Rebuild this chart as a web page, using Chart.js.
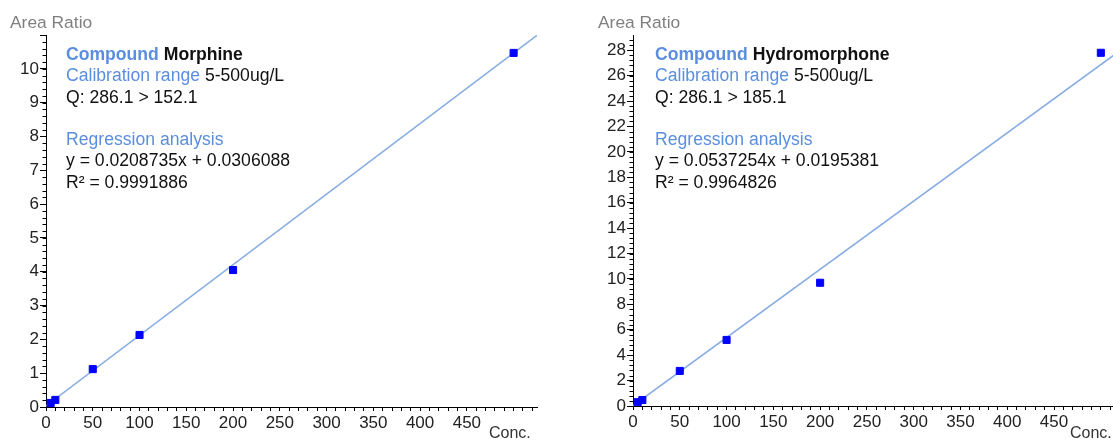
<!DOCTYPE html>
<html>
<head>
<meta charset="utf-8">
<script src="https://cdn.jsdelivr.net/npm/chart.js@4.4.0/dist/chart.umd.min.js"></script>
<style>
  body { margin: 0; background: #fff; font-family: "Liberation Sans", Arial, sans-serif; }
  #wrap { position: relative; width: 1113px; height: 441px; overflow: hidden; }
  .panel { position: absolute; top: 0; height: 441px; }
  .panel canvas { position: absolute; left: 0; top: 0; }
  .ytitle { position: absolute; top: 12px; font-size: 17.4px; color: #808080; white-space: nowrap; }
  .xtitle { position: absolute; top: 424px; font-size: 16px; color: #333; white-space: nowrap; }
  .note { position: absolute; top: 44px; font-size: 17.6px; line-height: 21.3px; color: #111; white-space: nowrap; }
  .note .k { color: #5b8edf; }
</style>
</head>
<body>
<div id="wrap">
  <div class="panel" style="left:0;width:556px">
    <canvas id="morphineChart" width="556" height="441"></canvas>
    <div class="ytitle" style="left:10px">Area Ratio</div>
    <div class="xtitle" style="left:489px">Conc.</div>
    <div class="note" style="left:66px">
      <div><b class="k">Compound</b> <b>Morphine</b></div>
      <div><span class="k">Calibration range</span> 5-500ug/L</div>
      <div>Q: 286.1 &gt; 152.1</div>
      <div>&nbsp;</div>
      <div class="k">Regression analysis</div>
      <div>y = 0.0208735x + 0.0306088</div>
      <div>R² = 0.9991886</div>
    </div>
  </div>
  <div class="panel" style="left:556px;width:563px">
    <canvas id="hydroChart" width="563" height="441"></canvas>
    <div class="ytitle" style="left:42px">Area Ratio</div>
    <div class="xtitle" style="left:514px">Conc.</div>
    <div class="note" style="left:99px">
      <div><b class="k">Compound</b> <b>Hydromorphone</b></div>
      <div><span class="k">Calibration range</span> 5-500ug/L</div>
      <div>Q: 286.1 &gt; 185.1</div>
      <div>&nbsp;</div>
      <div class="k">Regression analysis</div>
      <div>y = 0.0537254x + 0.0195381</div>
      <div>R² = 0.9964826</div>
    </div>
  </div>
</div>
<script>
// calibration points (conc. in ug/L, area ratio)
const concLevels = [5, 10, 50, 100, 200, 500];
const morphineRatio = [0.12, 0.21, 1.12, 2.13, 4.05, 10.47];
const hydromorphoneRatio = [0.30, 0.47, 2.76, 5.20, 9.70, 27.8];

// regression line end points
const fitConc = [0, 525];
const morphineFit = [0.03, 10.99];
const hydromorphoneFit = [0.02, 28.22];

// tick labels
const xTickLabels = [0, 50, 100, 150, 200, 250, 300, 350, 400, 450];
const morphineYLabels = [0, 1, 2, 3, 4, 5, 6, 7, 8, 9, 10];
const hydroYLabels = [0, 2, 4, 6, 8, 10, 12, 14, 16, 18, 20, 22, 24, 26, 28];

const tickFont = { family: '"Liberation Sans", Arial, sans-serif', size: 17 };

// short ticks between the labelled ones on the y axis
const minorTicks = {
    id: 'minorTicks',
    afterDraw(chart, args, opts) {
        const y = chart.scales.y;
        const ctx = chart.ctx;
        ctx.save();
        ctx.strokeStyle = '#000';
        ctx.lineWidth = 1;
        ctx.beginPath();
        for (let i = 1; i * opts.step < y.max; i++) {
            const p = Math.round(y.getPixelForValue(i * opts.step)) + 0.5;
            ctx.moveTo(y.right - 3.5, p);
            ctx.lineTo(y.right, p);
        }
        ctx.stroke();
        ctx.restore();
    }
};

function makeChart(id, ratios, fit, yMax, yStep, yMinor, yLabels, xMax, padLeft, padRight, xHeight) {
    const points = concLevels.map((c, i) => ({ x: c, y: ratios[i] }));
    const line = fitConc.map((c, i) => ({ x: c, y: fit[i] }));
    return new Chart(document.getElementById(id), {
        type: 'scatter',
        data: {
            datasets: [
                {
                    data: points,
                    pointStyle: 'rect',
                    pointRadius: 5,
                    pointBackgroundColor: '#0000ff',
                    pointBorderColor: '#0000ff',
                    pointBorderWidth: 1,
                    order: 0
                },
                {
                    type: 'line',
                    data: line,
                    borderColor: '#86ace2',
                    borderWidth: 1.6,
                    pointRadius: 0,
                    fill: false,
                    order: 1
                }
            ]
        },
        options: {
            responsive: false,
            animation: false,
            layout: { padding: { left: padLeft, right: padRight, top: 35, bottom: 0 } },
            plugins: {
                legend: { display: false },
                tooltip: { enabled: false },
                minorTicks: { step: yMinor }
            },
            scales: {
                x: {
                    type: 'linear',
                    min: 0,
                    max: xMax,
                    afterFit: s => { s.height = xHeight; s.paddingLeft = 0; s.paddingRight = 0; },
                    border: { display: true, color: '#000', width: 1 },
                    grid: { drawOnChartArea: false, tickLength: 4, tickColor: '#000' },
                    ticks: {
                        stepSize: 10,
                        includeBounds: false,
                        autoSkip: false,
                        maxRotation: 0,
                        minRotation: 0,
                        padding: 2,
                        color: '#222',
                        font: tickFont,
                        callback: v => xTickLabels.includes(v) ? String(v) : ''
                    }
                },
                y: {
                    min: 0,
                    max: yMax,
                    afterFit: s => { s.width = 46; s.paddingTop = 0; s.paddingBottom = 0; },
                    border: { display: true, color: '#000', width: 1 },
                    grid: { drawOnChartArea: false, tickLength: 6, tickColor: '#000' },
                    ticks: {
                        stepSize: yStep,
                        includeBounds: false,
                        autoSkip: false,
                        padding: 1,
                        color: '#222',
                        font: tickFont,
                        callback: v => yLabels.includes(v) ? String(v) : ''
                    }
                }
            }
        },
        plugins: [minorTicks]
    });
}

makeChart('morphineChart', morphineRatio, morphineFit, 11, 1, 0.2, morphineYLabels, 525, 0, 19, 34);
makeChart('hydroChart', hydromorphoneRatio, hydromorphoneFit, 29.2, 2, 0.4, hydroYLabels, 513, 31, 0, 35);
</script>
</body>
</html>
